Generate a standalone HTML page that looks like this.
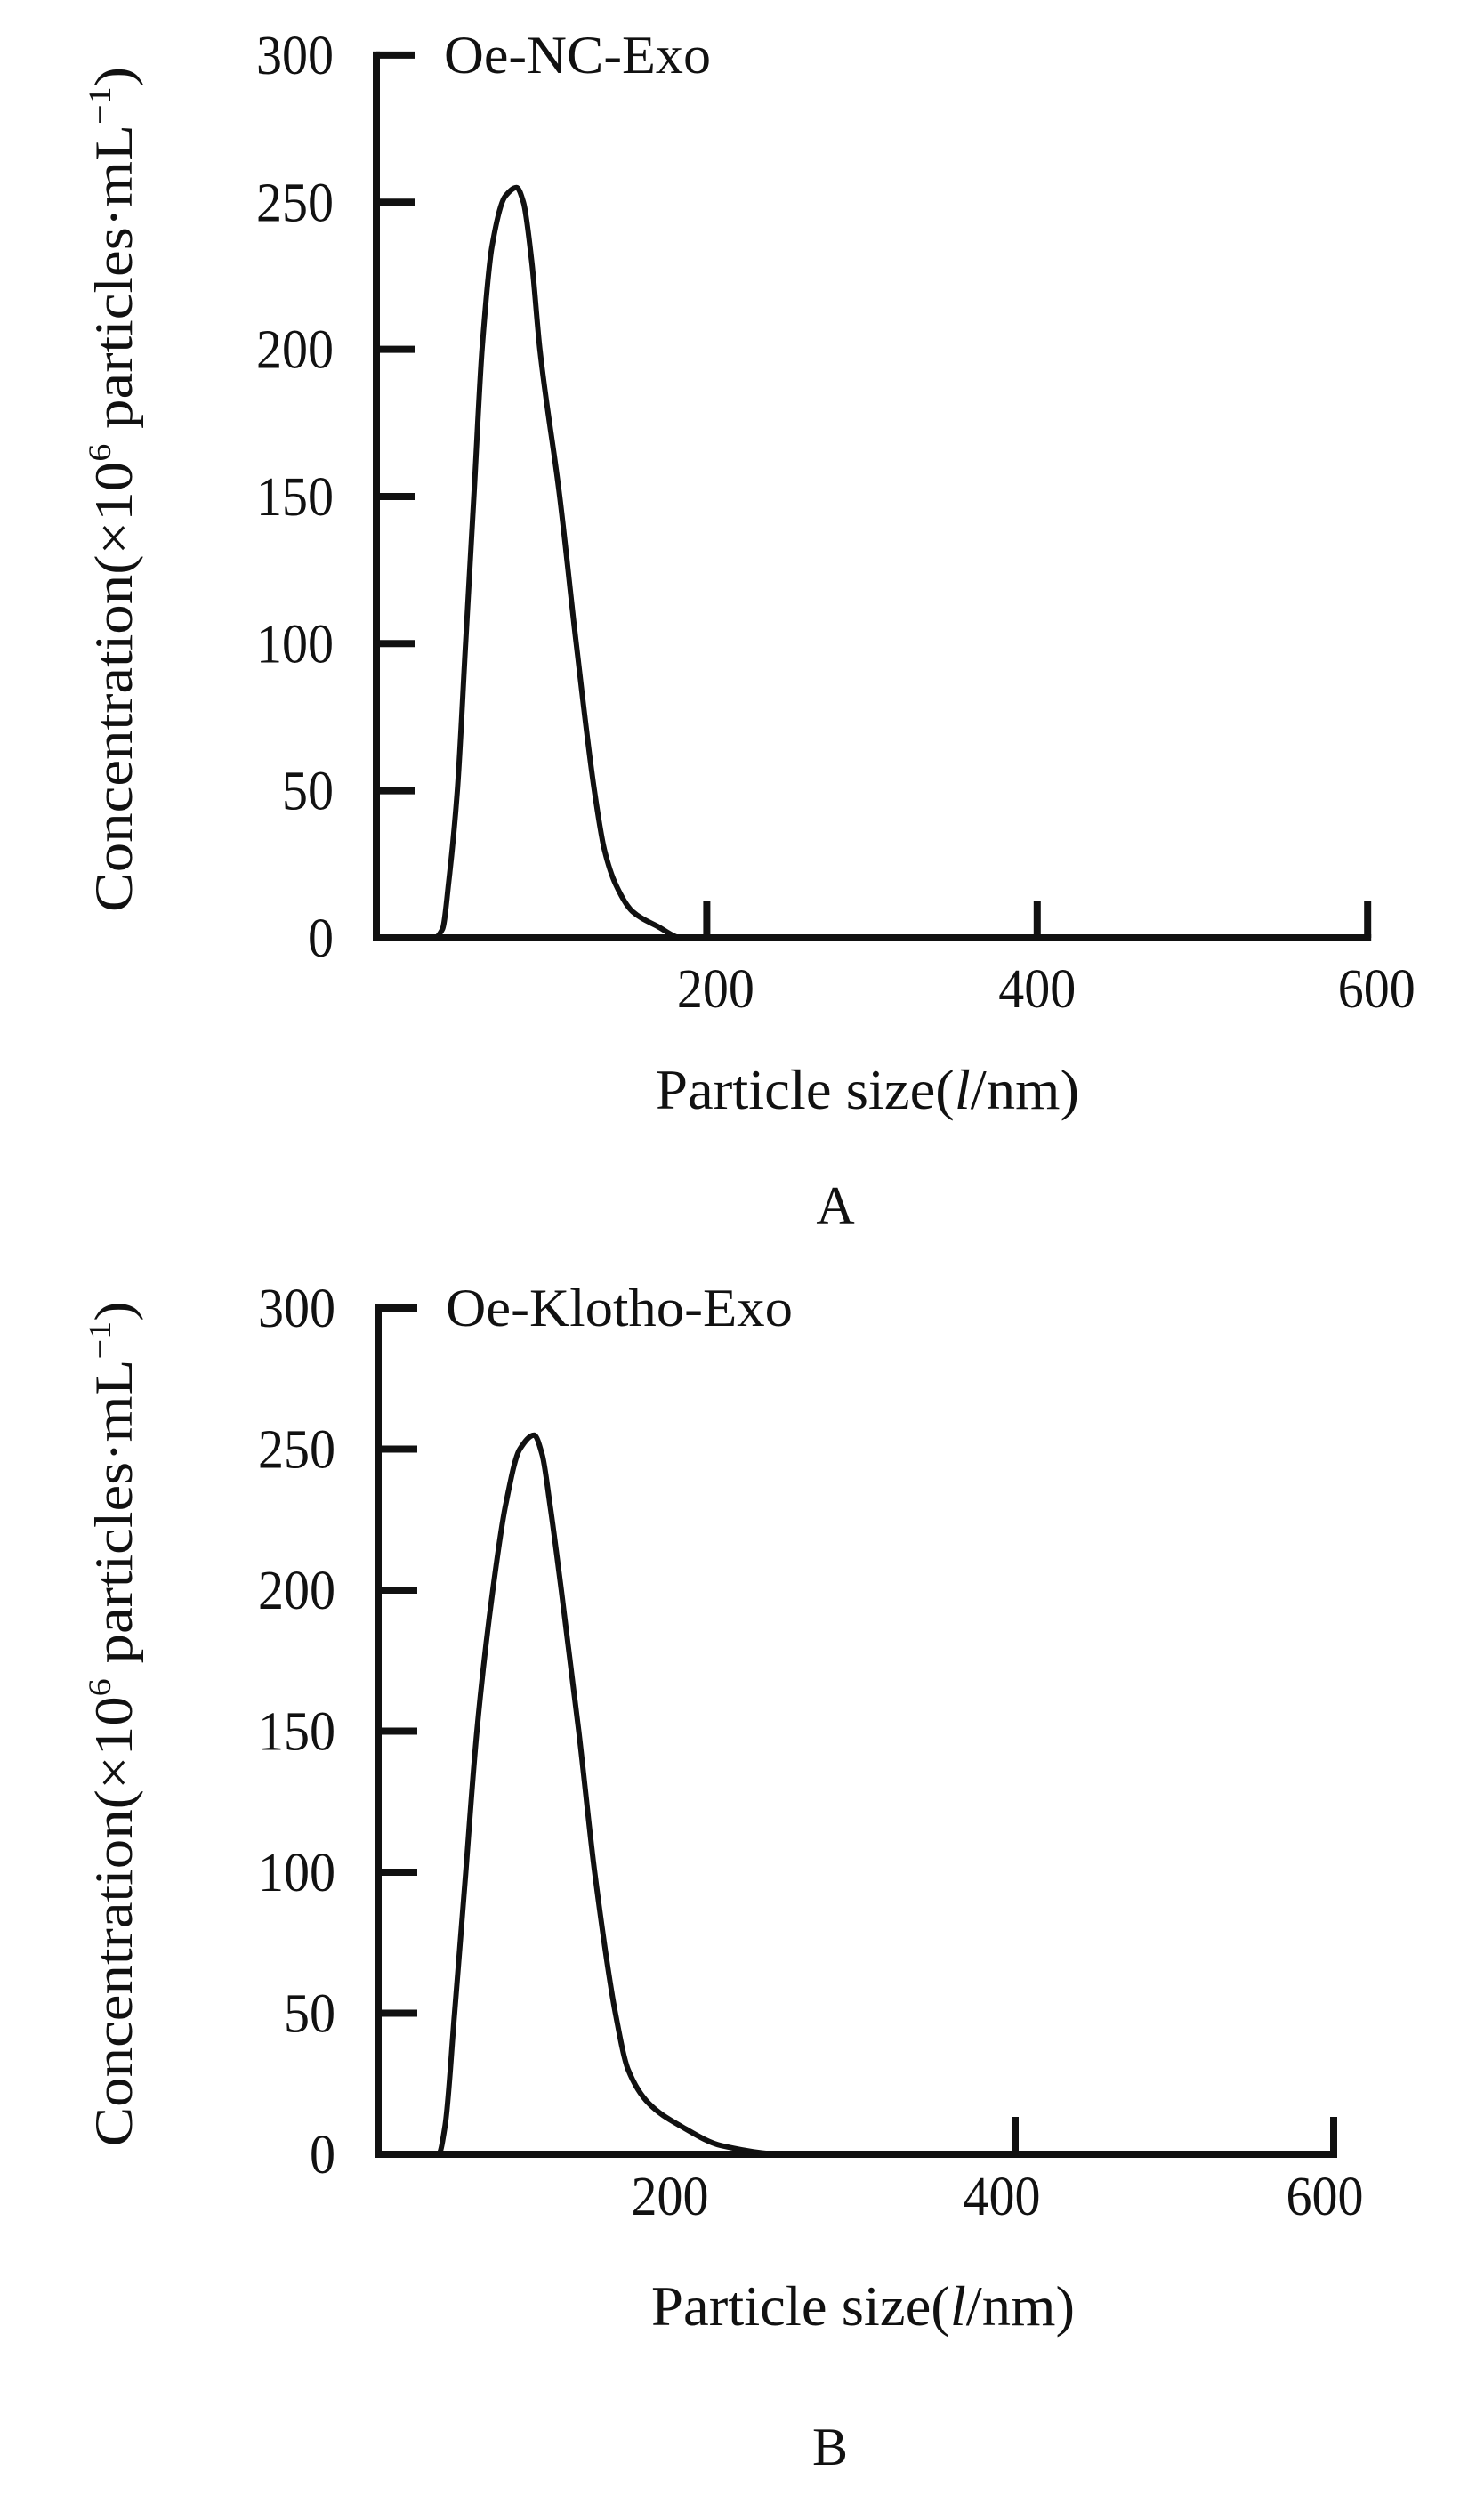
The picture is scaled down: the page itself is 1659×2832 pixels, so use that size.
<!DOCTYPE html>
<html><head><meta charset="utf-8">
<style>
html,body{margin:0;padding:0;background:#fff;}
svg{display:block;}
text{font-family:"Liberation Serif","Noto Serif CJK SC",serif;fill:#111;}
</style></head>
<body>
<svg id="fig" width="1659" height="2832" viewBox="0 0 1659 2832" xmlns="http://www.w3.org/2000/svg"></svg>
<script>
const yTicks = [0, 50, 100, 150, 200, 250, 300];
const xTickLabels = [200, 400, 600];
const sizesA = [20, 35, 40, 44, 49, 54, 59, 64, 70, 78, 85, 89, 94, 99, 111, 121, 132, 138, 145, 155, 170, 185, 600];
const concA  = [0, 0, 3, 20, 50, 100, 150, 200, 235, 252, 255, 250, 230, 200, 150, 100, 50, 30, 18, 9, 4, 0, 0];
const sizesB = [20, 38, 42, 48, 55, 62, 72, 80, 89, 98, 103, 108, 115, 126, 136, 149, 157, 170, 190, 216, 255, 600];
const concB  = [0, 0, 10, 50, 100, 150, 200, 230, 250, 255, 248, 230, 200, 150, 100, 50, 30, 18, 10, 3, 0, 0];

const svg = document.getElementById('fig');
const NS = 'http://www.w3.org/2000/svg';
function mk(tag, attrs, parent){
  const e = document.createElementNS(NS, tag);
  for (const k in attrs) e.setAttribute(k, attrs[k]);
  (parent||svg).appendChild(e);
  return e;
}
function monoPath(p){
  const n = p.length, dx = [], m = [], t = [];
  for (let i = 0; i < n-1; i++) { dx[i] = p[i+1][0]-p[i][0]; m[i] = (p[i+1][1]-p[i][1])/dx[i]; }
  t[0] = m[0]; t[n-1] = m[n-2];
  for (let i = 1; i < n-1; i++) {
    if (m[i-1]*m[i] <= 0) t[i] = 0;
    else { const w1 = 2*dx[i]+dx[i-1], w2 = dx[i]+2*dx[i-1]; t[i] = (w1+w2)/(w1/m[i-1]+w2/m[i]); }
  }
  let d = 'M' + p[0][0].toFixed(1) + ',' + p[0][1].toFixed(1);
  for (let i = 0; i < n-1; i++) {
    const h = dx[i]/3;
    d += ' C' + (p[i][0]+h).toFixed(1) + ',' + (p[i][1]+t[i]*h).toFixed(1) + ' ' +
         (p[i+1][0]-h).toFixed(1) + ',' + (p[i+1][1]-t[i+1]*h).toFixed(1) + ' ' +
         p[i+1][0].toFixed(1) + ',' + p[i+1][1].toFixed(1);
  }
  return d;
}

function panel(cfg){
  const g = mk('g', {});
  
  
  const X = v => cfg.x0 + v * cfg.xs;
  const Y = v => cfg.y0 - v * cfg.ys;
  const ya = mk('line', {x1:cfg.x0, y1:Y(300)-4, x2:cfg.x0, y2:cfg.y0+4, stroke:'#111','stroke-width':8}, g);
  
  
  const xa = mk('line', {x1:cfg.x0-4, y1:cfg.y0, x2:X(600)+4, y2:cfg.y0, stroke:'#111','stroke-width':8}, g);
  
  
  yTicks.forEach(t => {
    if (t > 0) {
      const tk = mk('line', {x1:cfg.x0, y1:Y(t), x2:cfg.x0+44, y2:Y(t), stroke:'#111','stroke-width':8}, g);
      
      
    }
    const s = String(t);
    const lb = mk('text', {x:cfg.x0-48, y:Y(t)+21, 'font-size':62, 'text-anchor':'end', textLength:s.length*29, lengthAdjust:'spacingAndGlyphs'}, g);
    lb.textContent = s;
    
    
  });
  xTickLabels.forEach((t, i) => {
    if (cfg.xTicks.indexOf(t) >= 0) {
      const tk = mk('line', {x1:X(t), y1:cfg.y0, x2:X(t), y2:cfg.y0-42, stroke:'#111','stroke-width':8}, g);
      
      
    }
    const lb = mk('text', {x:X(t)+cfg.lblOff[i], y:cfg.y0+cfg.lblDy, 'font-size':62, 'text-anchor':'middle', textLength:87, lengthAdjust:'spacingAndGlyphs'}, g);
    lb.textContent = t;
    
    
  });
  const pts = cfg.xs_data.map((s, i) => [X(s), Y(cfg.ys_data[i])]);
  const cv = mk('path', {d:monoPath(pts), fill:'none', stroke:'#111','stroke-width':6,'stroke-linejoin':'round','stroke-linecap':'round'}, g);
  
  
  const lg = mk('text', {x:cfg.x0+76, y:Y(300)+20, 'font-size':60, textLength:cfg.legLen, lengthAdjust:'spacingAndGlyphs'}, g);
  lg.textContent = cfg.legend;
  
  
  const cy = (Y(300) + cfg.y0) / 2 - 8;
  const yt = mk('text', {x:0, y:0, 'font-size':60, 'text-anchor':'middle', transform:'translate(148,' + cy + ') rotate(-90)', textLength:950, lengthAdjust:'spacingAndGlyphs'}, g);
  yt.innerHTML = 'Concentration(×10<tspan font-size="36" dy="-24">6</tspan><tspan dy="24"> particles·mL</tspan><tspan font-size="36" dy="-24">−1</tspan><tspan dy="24">)</tspan>';
  
  
  const xt = mk('text', {x:cfg.xtx, y:cfg.y0+cfg.xtDy, 'font-size':64, 'text-anchor':'middle', textLength:476, lengthAdjust:'spacingAndGlyphs'}, g);
  xt.innerHTML = 'Particle size(<tspan font-style="italic">l</tspan>/nm)';
  
  
  const pl = mk('text', {x:cfg.lx, y:cfg.ly, 'font-size':60, 'text-anchor':'middle'}, g);
  pl.textContent = cfg.letter;
  
  
}

panel({name:'panel-a', x0:423, y0:1054, xs:1.857, ys:3.307, xTicks:[200,400,600], lblOff:[10,0,10], lblDy:78,
  xs_data:sizesA, ys_data:concA, legend:'Oe-NC-Exo', legLen:300, xtx:975, xtDy:192, lx:939, ly:1375, letter:'A'});
panel({name:'panel-b', x0:425, y0:2421, xs:1.79, ys:3.17, xTicks:[400,600], lblOff:[-30,-15,-10], lblDy:68,
  xs_data:sizesB, ys_data:concB, legend:'Oe-Klotho-Exo', legLen:390, xtx:970, xtDy:192, lx:933, ly:2770, letter:'B'});
</script>
</body></html>
